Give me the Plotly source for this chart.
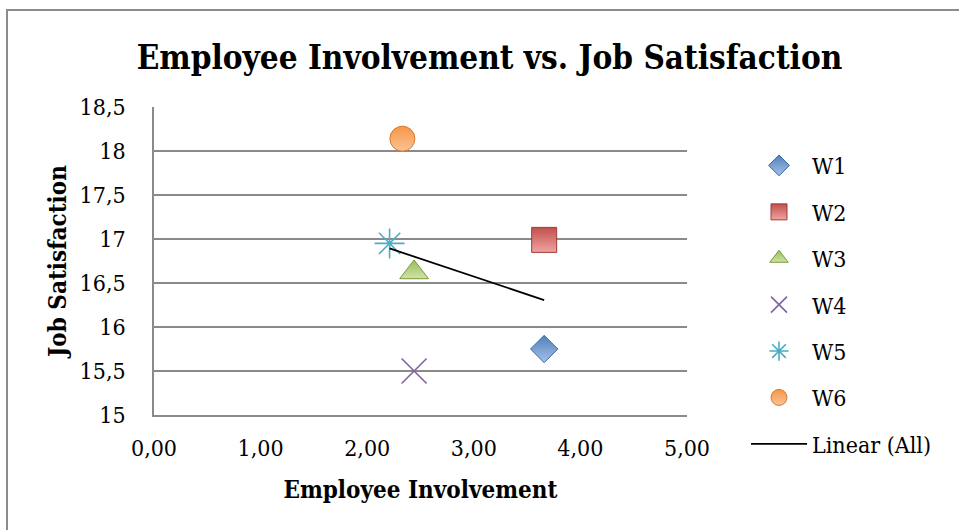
import numpy as np
import plotly.graph_objects as go

# ---- data ----
series_names = ["W1", "W2", "W3", "W4", "W5", "W6"]
involvement = [3.66, 3.66, 2.44, 2.44, 2.21, 2.33]
satisfaction = [15.75, 16.99, 16.62, 15.50, 16.95, 18.14]

x_ticks = [0, 1, 2, 3, 4, 5]
y_ticks = [15, 15.5, 16, 16.5, 17, 17.5, 18, 18.5]

# ---- styles ----
FONT = "DejaVu Serif Condensed, Liberation Serif, serif"
styles = {
    "W1": dict(symbol="diamond", size=21, color="#4F81BD", light="#A7C0E8", edge="#3A679E"),
    "W2": dict(symbol="square", size=25, color="#C0504D", light="#F2A3A1", edge="#9C3D3A"),
    "W3": dict(symbol="triangle-up", size=25, color="#9BBB59", light="#CFE3A6", edge="#7A9A3E"),
    "W4": dict(symbol="x-thin-open", size=25, color="#8064A2", light=None, edge=None),
    "W5": dict(symbol="asterisk-open", size=25, color="#4BACC6", light=None, edge=None),
    "W6": dict(symbol="circle", size=25, color="#F79646", light="#FBC396", edge="#D9782C"),
}

fig = go.Figure()
for i, name in enumerate(series_names):
    st = styles[name]
    if st["light"] is None:
        marker = dict(symbol=st["symbol"], size=st["size"], color=st["color"],
                      line=dict(color=st["color"], width=1.6))
    else:
        marker = dict(symbol=st["symbol"], size=st["size"], color=st["color"],
                      gradient=dict(type="vertical", color=st["light"]),
                      line=dict(color=st["edge"], width=1))
    fig.add_trace(go.Scatter(
        x=[involvement[i]], y=[satisfaction[i]], mode="markers", name=name,
        marker=marker, legendgroup=name, showlegend=True))

# linear trendline over all points
coef = np.polyfit(involvement, satisfaction, 1)
tx = np.array([min(involvement), max(involvement)])
ty = np.polyval(coef, tx)
fig.add_trace(go.Scatter(x=tx, y=ty, mode="lines", name="Linear (All)",
                         line=dict(color="black", width=1.8), legendgroup="lin"))

L, R, T, B = 154, 272, 107, 115
W, H = 959, 530
pw, ph = W - L - R, H - T - B

def px_to_paper_x(px):
    return (px - L) / pw

def px_to_paper_y(py):
    return (H - B - py) / ph

grid = "#8A8A8A"
fig.update_layout(
    width=W, height=H,
    margin=dict(l=L, r=R, t=T, b=B),
    paper_bgcolor="white", plot_bgcolor="white",
    separators=",.",
    font=dict(family=FONT, size=23, color="black"),
    title=dict(text="<b>Employee Involvement vs. Job Satisfaction</b>",
               x=489.5 / W, xanchor="center", y=1 - 57 / H, yanchor="middle",
               font=dict(family=FONT, size=33, color="black")),
    xaxis=dict(range=[0, 5], tickvals=x_ticks, tickformat=".2f",
               showgrid=False, zeroline=False, showline=True,
               linecolor=grid, linewidth=1.5, ticks="", ticklabelstandoff=12,
               tickfont=dict(size=23),
               title=dict(text="<b>Employee Involvement</b>", standoff=21,
                          font=dict(size=24))),
    yaxis=dict(range=[15, 18.5], tickvals=y_ticks,
               showgrid=True, gridcolor=grid, gridwidth=1.5,
               zeroline=False, showline=True, linecolor=grid, linewidth=1.5,
               ticks="", ticklabelstandoff=22, tickfont=dict(size=23),
               title=dict(text="<b>Job Satisfaction</b>", standoff=6,
                          font=dict(size=24))),
    legend=dict(x=px_to_paper_x(746), xanchor="left",
                y=px_to_paper_y(144), yanchor="top",
                tracegroupgap=13.5, font=dict(size=23),
                bgcolor="rgba(0,0,0,0)", itemwidth=56, maxheight=400),
    shapes=[dict(type="rect", xref="paper", yref="paper",
                 x0=px_to_paper_x(7), x1=px_to_paper_x(980),
                 y0=px_to_paper_y(560), y1=px_to_paper_y(10),
                 line=dict(color="#8C8C8C", width=2), layer="below")],
    showlegend=True,
)

fig.write_html("out.html")
